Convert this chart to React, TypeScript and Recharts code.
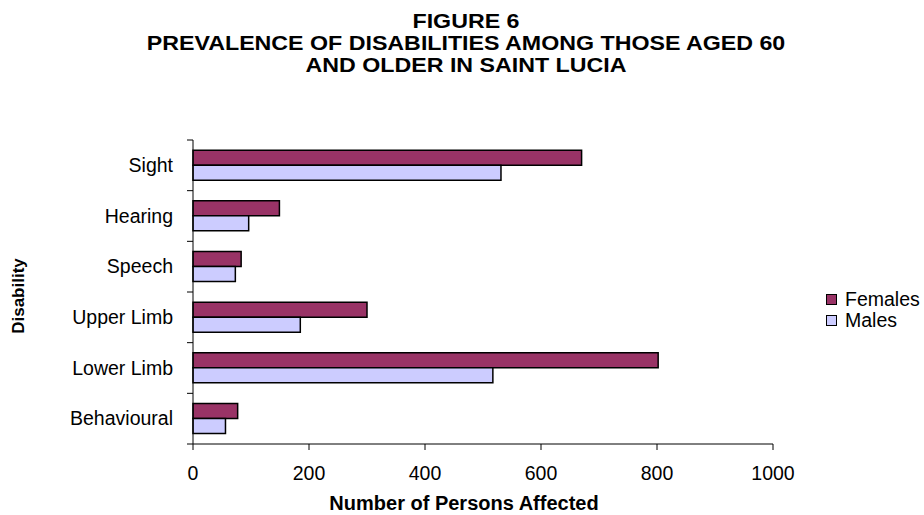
import React from "react";
import { BarChart, Bar, XAxis, YAxis } from "recharts";

const categories = ["Sight", "Hearing", "Speech", "Upper Limb", "Lower Limb", "Behavioural"];
const females = [670, 149, 83, 300, 802, 77];
const males = [531, 96, 73, 185, 517, 56];
const xTicks = [0, 200, 400, 600, 800, 1000];
const seriesInfo = [
  { key: "females", label: "Females", color: "#993366" },
  { key: "males", label: "Males", color: "#CCCCFF" },
];

const data = categories.map((name, i) => ({
  name,
  females: females[i],
  males: males[i],
}));

const FONT = "'Liberation Sans', Arial, sans-serif";
const WIDTH = 924;
const HEIGHT = 515;
const X_AXIS_H = 30;
// plot area: x 193..773, y 140..444
const MARGIN = { top: 140, right: 151, bottom: 71 - X_AXIS_H, left: 0 };
const AXIS_X = 193;
const BAND = (HEIGHT - 140 - 71) / categories.length;

const CategoryTick = (props: any) => {
  const { y, payload, index } = props;
  return (
    <g>
      <line x1={AXIS_X - 6} x2={AXIS_X} y1={y - BAND / 2} y2={y - BAND / 2} stroke="#000" />
      {index === categories.length - 1 && (
        <line x1={AXIS_X - 6} x2={AXIS_X} y1={y + BAND / 2} y2={y + BAND / 2} stroke="#000" />
      )}
      <text
        x={AXIS_X - 20}
        y={y}
        dy="0.35em"
        textAnchor="end"
        fontFamily={FONT}
        fontSize={19.5}
        fill="#000"
      >
        {payload.value}
      </text>
    </g>
  );
};

export default function App() {
  return (
    <div style={{ position: "absolute", left: 0, top: 0, width: WIDTH, height: HEIGHT, background: "#fff", overflow: "hidden" }}>
      <div
        style={{
          position: "absolute",
          left: 0,
          top: 10,
          width: 932,
          textAlign: "center",
          fontFamily: FONT,
          fontWeight: "bold",
          fontSize: 20,
          lineHeight: "22px",
          color: "#000",
          transform: "scaleX(1.16)",
          transformOrigin: "466px 0",
        }}
      >
        FIGURE 6
        <br />
        PREVALENCE OF DISABILITIES AMONG THOSE AGED 60
        <br />
        AND OLDER IN SAINT LUCIA
      </div>
      <div
        style={{
          position: "absolute",
          left: 19,
          top: 296,
          transform: "translate(-50%, -50%) rotate(-90deg)",
          fontFamily: FONT,
          fontWeight: "bold",
          fontSize: 17,
          color: "#000",
          whiteSpace: "nowrap",
        }}
      >
        Disability
      </div>
      <div
        style={{
          position: "absolute",
          left: 464,
          top: 494,
          transform: "translateX(-50%)",
          fontFamily: FONT,
          fontWeight: "bold",
          fontSize: 20,
          lineHeight: "19px",
          color: "#000",
          whiteSpace: "nowrap",
        }}
      >
        Number of Persons Affected
      </div>
      <div
        style={{
          position: "absolute",
          left: 826,
          top: 289,
          fontFamily: FONT,
          fontSize: 19.5,
          color: "#000",
          lineHeight: "21px",
        }}
      >
        {seriesInfo.map((item) => (
          <div key={item.key} style={{ display: "flex", alignItems: "center" }}>
            <span
              style={{
                display: "inline-block",
                width: 9,
                height: 9,
                background: item.color,
                border: "1.5px solid #000",
                marginRight: 8,
              }}
            />
            {item.label}
          </div>
        ))}
      </div>
      <BarChart
        width={WIDTH}
        height={HEIGHT}
        data={data}
        layout="vertical"
        margin={MARGIN}
        barCategoryGap="20%"
        barGap={0}
        style={{ position: "absolute", left: 0, top: 0 }}
      >
        <XAxis
          type="number"
          domain={[0, 1000]}
          ticks={xTicks}
          interval={0}
          height={X_AXIS_H}
          tickSize={6}
          tickMargin={16}
          axisLine={{ stroke: "#000" }}
          tickLine={{ stroke: "#000" }}
          tick={{ fontFamily: FONT, fontSize: 19.5, fill: "#000" }}
        />
        <YAxis
          type="category"
          dataKey="name"
          width={AXIS_X}
          axisLine={{ stroke: "#000" }}
          tickLine={false}
          tick={<CategoryTick />}
          interval={0}
        />
        {seriesInfo.map((s) => (
          <Bar
            key={s.key}
            dataKey={s.key}
            name={s.label}
            fill={s.color}
            stroke="#000"
            strokeWidth={1.5}
            isAnimationActive={false}
          />
        ))}
      </BarChart>
    </div>
  );
}
